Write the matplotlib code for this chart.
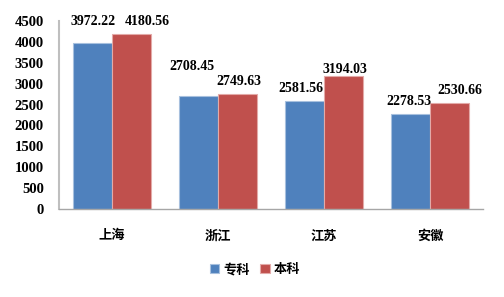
import matplotlib.pyplot as plt
import numpy as np

# data
provinces = ["上海", "浙江", "江苏", "安徽"]
series_names = ["专科", "本科"]
zhuanke = [3972.22, 2708.45, 2581.56, 2278.53]
benke = [4180.56, 2749.63, 3194.03, 2530.66]
y_ticks = [0, 500, 1000, 1500, 2000, 2500, 3000, 3500, 4000, 4500]

colors = ["#4F81BD", "#C0504D"]
edges = ["#A7C0DE", "#E3AAA8"]

# label nudges (pixels) as laid out in the original
label_dx = [[1, -7, -4, -1.5], [15.5, 1.5, 1.5, 10]]
label_dy = [[22, 29, 13, 12], [12.5, 13, 6, 13]]

fig = plt.figure(figsize=(5.04, 2.97), dpi=100)
ax = fig.add_axes([59 / 504, 1 - 209 / 297, 424 / 504, 188 / 297])

x = np.arange(len(provinces))
width = 0.367

for i, vals in enumerate([zhuanke, benke]):
    pos = x + (i - 0.5) * width
    ax.bar(pos, vals, width=width, color=colors[i], edgecolor=edges[i],
           linewidth=0.8, label=series_names[i], zorder=2)
    for j, v in enumerate(vals):
        ax.annotate(f"{v:.2f}", (pos[j], v),
                    xytext=(label_dx[i][j], label_dy[i][j]),
                    textcoords="offset pixels", ha="center", va="center",
                    fontsize=10, fontweight="bold", family="Liberation Serif")

ax.set_xlim(-0.5, len(provinces) - 0.5)
ax.set_ylim(0, 4500)
ax.set_yticks(y_ticks)
ax.set_yticklabels([str(t) for t in y_ticks], fontsize=10.5, fontweight="bold",
                   family="Liberation Serif")
ax.set_xticks(x)
ax.set_xticklabels(provinces, fontsize=9.5, fontweight="bold",
                   family=["Noto Sans CJK SC", "DejaVu Sans"])
ax.tick_params(axis="y", length=0, pad=11)
ax.tick_params(axis="x", length=0, pad=14)

for s in ["top", "right"]:
    ax.spines[s].set_visible(False)
ax.spines["left"].set_color("#BFBFBF")
ax.spines["left"].set_linewidth(1.5)
ax.spines["bottom"].set_color("#A6A6A6")
ax.spines["bottom"].set_linewidth(1.0)

fig.legend(loc="center", bbox_to_anchor=(255 / 504, 1 - 269 / 297), ncol=2,
           frameon=False, handlelength=0.7, handleheight=0.7, handletextpad=0.3,
           columnspacing=0.8,
           prop={"family": ["Noto Sans CJK SC", "DejaVu Sans"], "weight": "bold",
                 "size": 9.5})

plt.savefig("out.png", dpi=100)
